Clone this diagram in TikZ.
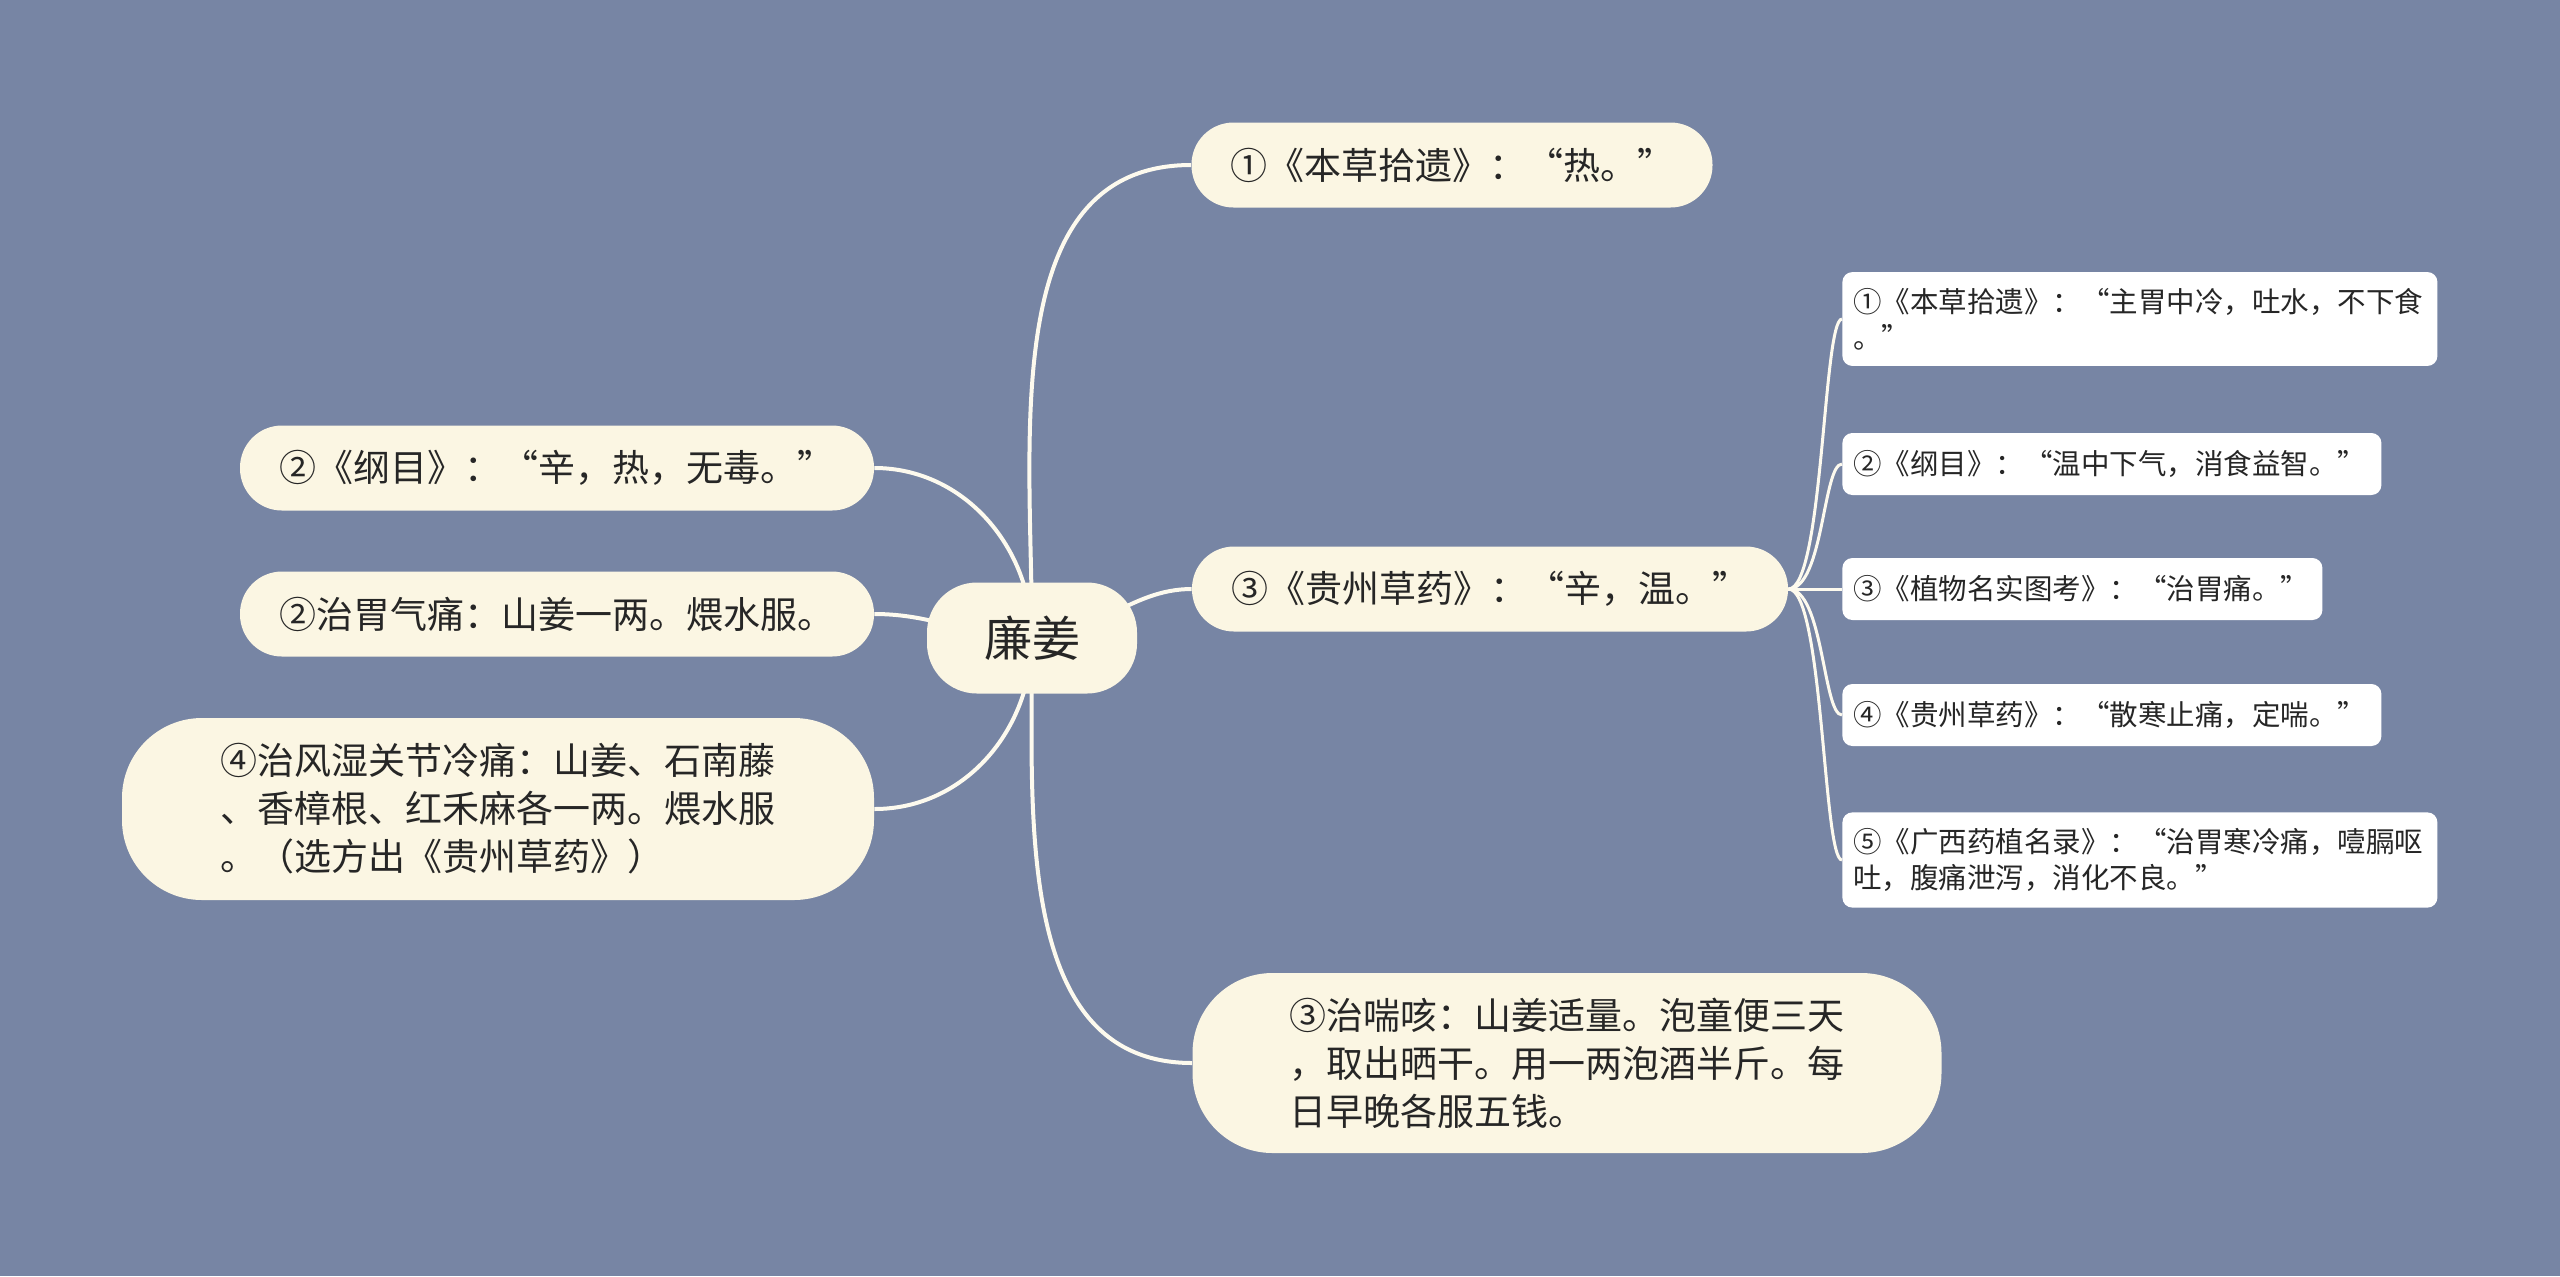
\documentclass[tikz,border=0pt]{standalone}
\usepackage{fontspec}
\usepackage{xcolor}
\usepackage{tikz}
\newfontfamily\cjk{Noto Sans CJK SC}
\definecolor{slate}{HTML}{7785A4}
\definecolor{cream}{HTML}{FBF6E3}
\definecolor{wire}{HTML}{FDFAEE}
\definecolor{ink}{HTML}{262626}
\pgfdeclarelayer{back}
\pgfsetlayers{back,main}
\tikzset{
  rootnode/.style={fill=cream, rounded corners=25pt, minimum width=105pt, minimum height=55.5pt,
    text=ink, font=\cjk\fontsize{24}{28}\selectfont},
  topic/.style={fill=cream, rounded corners=21pt, minimum height=42.5pt, inner xsep=10pt,
    text=ink, font=\cjk\fontsize{18.5}{24}\selectfont},
  bigtopic/.style={topic, rounded corners=40pt, align=left},
  leaf/.style={fill=white, rounded corners=5pt, anchor=west, align=left, inner xsep=5.5pt,
    inner ysep=8pt, minimum height=31pt, text=ink, font=\cjk\fontsize{14.25}{18}\selectfont},
  link/.style={wire, line width=2pt},
  leaflink/.style={wire, line width=1.5pt},
}

\begin{document}
\begin{tikzpicture}[x=0.5pt, y=-0.5pt]
  \node[rootnode] (lianjiang) at (1032,638) {廉姜};
  \node[topic, minimum width=260.5pt] (bencao) at (1452,165) {①《本草拾遗》：“热。”};
  \node[topic, minimum width=298pt] (guizhou) at (1490,589) {③《贵州草药》：“辛，温。”};
  \node[bigtopic, minimum width=374.5pt, minimum height=90pt] (chuanke) at (1567,1063)
    {③治喘咳：山姜适量。泡童便三天\\，取出晒干。用一两泡酒半斤。每\\日早晚各服五钱。};
  \node[topic, minimum width=317pt] (gangmu) at (557,468) {②《纲目》：“辛，热，无毒。”};
  \node[topic, minimum width=317pt] (weiqi) at (557,614) {②治胃气痛：山姜一两。煨水服。};
  \node[bigtopic, minimum width=376pt, minimum height=91pt] (fengshi) at (498,809)
    {④治风湿关节冷痛：山姜、石南藤\\、香樟根、红禾麻各一两。煨水服\\。（选方出《贵州草药》）};

  \node[leaf, text width=286.5pt] (zhuwei) at (1842,319) {①《本草拾遗》：“主胃中冷，吐水，不下食\\。”};
  \node[leaf, text width=258.5pt] (wenzhong) at (1842,464) {②《纲目》：“温中下气，消食益智。”};
  \node[leaf, text width=229pt] (zhiwu) at (1842,589) {③《植物名实图考》：“治胃痛。”};
  \node[leaf, text width=258.5pt] (sanhan) at (1842,715) {④《贵州草药》：“散寒止痛，定喘。”};
  \node[leaf, text width=286.5pt] (guangxi) at (1842,860) {⑤《广西药植名录》：“治胃寒冷痛，噎膈呕\\吐，腹痛泄泻，消化不良。”};

  \begin{pgfonlayer}{back}
    \fill[slate] (0,0) rectangle (2560,1276);
    \draw[link] (lianjiang.center) .. controls +(0,-195) and +(-195,0) .. (bencao.west);
    \draw[link] (lianjiang.center) .. controls +(62,0) and +(-62,0) .. (guizhou.west);
    \draw[link] (lianjiang.center) .. controls +(0,178) and +(-178,0) .. (chuanke.west);
    \draw[link] (lianjiang.center) .. controls +(0,-90) and +(90,0) .. (gangmu.east);
    \draw[link] (lianjiang.center) .. controls +(-62,0) and +(62,0) .. (weiqi.east);
    \draw[link] (lianjiang.center) .. controls +(0,91) and +(91,0) .. (fengshi.east);
    \foreach \leafname in {zhuwei,wenzhong,zhiwu,sanhan,guangxi}
      \draw[leaflink] (guizhou.east) .. controls +(35,0) and +(-19,0) .. (\leafname.west);
  \end{pgfonlayer}
\end{tikzpicture}
\end{document}
